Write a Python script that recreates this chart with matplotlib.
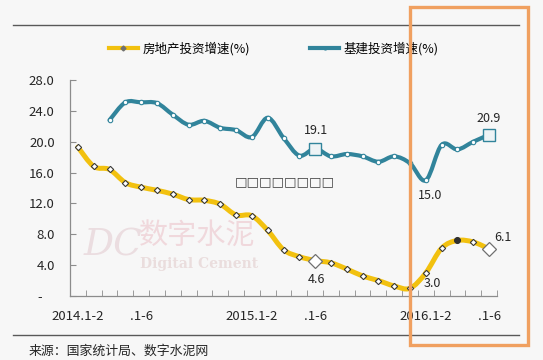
import numpy as np
import matplotlib
matplotlib.use("Agg")
import matplotlib.pyplot as plt
from matplotlib.path import Path
from matplotlib.patches import PathPatch, Rectangle
from matplotlib.lines import Line2D

plt.rcParams['font.family'] = ['Noto Sans CJK SC', 'DejaVu Sans']

# categories: cumulative months, Jan-Feb combined
categories = (['2014.1-%d' % m for m in range(2, 13)] +
              ['2015.1-%d' % m for m in range(2, 13)] +
              ['2016.1-%d' % m for m in range(2, 7)])

tick_index = [0, 4, 11, 15, 22, 26]
tick_text = ['2014.1-2', '.1-6', '2015.1-2', '.1-6', '2016.1-2', '.1-6']

# 房地产投资增速(%)
realestate = [19.3, 16.8, 16.4, 14.7, 14.1, 13.7, 13.2, 12.5, 12.4, 11.9, 10.5,
              10.4, 8.5, 6.0, 5.1, 4.6, 4.3, 3.5, 2.6, 2.0, 1.3, 1.0,
              3.0, 6.2, 7.2, 7.0, 6.1]
# 基建投资增速(%)
infra = [np.nan, np.nan, 22.8, 25.1, 25.1, 25.0, 23.5, 22.2, 22.7, 21.8, 21.5,
         20.6, 23.1, 20.5, 18.2, 19.1, 18.1, 18.4, 18.1, 17.4, 18.1, 17.2,
         15.0, 19.6, 19.0, 20.0, 20.9]

yticks = [0, 4, 8, 12, 16, 20, 24, 28]

yellow = '#F2C10F'
teal = '#31849B'
bg = '#F7F7F7'
W, H = 543, 360


def smooth_path(x, y):
    # bezier segments through every point, like a "smoothed line" in excel
    pts = np.column_stack([x, y])
    n = len(pts)
    verts = [pts[0]]
    codes = [Path.MOVETO]
    for i in range(n - 1):
        p0 = pts[i - 1] if i > 0 else pts[i]
        p1, p2 = pts[i], pts[i + 1]
        p3 = pts[i + 2] if i + 2 < n else pts[i + 1]
        verts += [p1 + (p2 - p0) / 6, p2 - (p3 - p1) / 6, p2]
        codes += [Path.CURVE4] * 3
    return Path(verts, codes)


def fx(px):
    return px / W


def fy(py):
    return 1 - py / H


fig = plt.figure(figsize=(W / 100, H / 100), dpi=100, facecolor=bg)
ax = fig.add_axes([fx(70), fy(296), 427 / W, 216 / H], facecolor=bg)

x = np.arange(len(categories))
re = np.array(realestate)
inf = np.array(infra)
ok = ~np.isnan(inf)

ax.add_patch(PathPatch(smooth_path(x, re), fill=False, ec=yellow, lw=3.6,
                       capstyle='round', joinstyle='round', zorder=2))
ax.add_patch(PathPatch(smooth_path(x[ok], inf[ok]), fill=False, ec=teal, lw=3.0,
                       capstyle='round', joinstyle='round', zorder=2))

ax.plot(x, re, ls='none', marker='D', ms=3.2, mfc='white', mec='#3a3a3a',
        mew=0.8, zorder=3)
ax.plot(x[ok], inf[ok], ls='none', marker='o', ms=3.2, mfc='white', mec=teal,
        mew=0.8, zorder=3)

# highlighted points
for i in [15, 26]:
    ax.plot(x[i], re[i], marker='D', ms=7, mfc='white', mec='#707070', mew=0.9,
            zorder=4)
    ax.plot(x[i], inf[i], marker='s', ms=8, mfc='#EEF3F5', mec=teal, mew=1.0,
            zorder=4)
ax.plot(x[24], re[24], marker='o', ms=4, mfc='#303030', mec='#303030', zorder=4)

# data labels
lab = dict(fontsize=9, color='#262626', ha='center', va='center',
           textcoords='offset points')
ax.annotate('%.1f' % inf[15], (x[15], inf[15]), xytext=(1, 13), **lab)
ax.annotate('%.1f' % inf[22], (x[22], inf[22]), xytext=(3, -11), **lab)
ax.annotate('%.1f' % inf[26], (x[26], inf[26]), xytext=(0, 12), **lab)
ax.annotate('%.1f' % re[15], (x[15], re[15]), xytext=(1, -14), **lab)
ax.annotate('%.1f' % re[22], (x[22], re[22]), xytext=(5, -8), **lab)
ax.annotate('%.1f' % re[26], (x[26], re[26]), xytext=(10, 8), **lab)

ax.set_xlim(-0.5, len(categories) - 0.5)
ax.set_ylim(0, 28)

ax.set_yticks(yticks)
ax.set_yticklabels(['-    '] + ['%.1f' % v for v in yticks[1:]])
ax.set_xticks([x[i] for i in tick_index])
ax.set_xticklabels(tick_text)
ax.set_xticks(np.arange(-0.5, len(categories), 1), minor=True)

ax.tick_params(axis='y', direction='in', length=4, color='#8C8C8C', pad=11,
               labelsize=9.5, labelcolor='#262626')
ax.tick_params(axis='x', which='major', length=0, pad=10, labelsize=9.5,
               labelcolor='#262626')
ax.tick_params(axis='x', which='minor', direction='in', length=4,
               color='#8C8C8C')

for s in ['top', 'right']:
    ax.spines[s].set_visible(False)
for s in ['left', 'bottom']:
    ax.spines[s].set_color('#8C8C8C')
    ax.spines[s].set_linewidth(0.9)

# watermark
ax.text(fx(84), fy(246), 'DC', transform=fig.transFigure, fontsize=27,
        family='DejaVu Serif', style='italic', color='#EBDDE0', va='center',
        zorder=0.5)
ax.text(fx(139), fy(236), '数字水泥', transform=fig.transFigure, fontsize=21,
        color='#F0D8DC', va='center', zorder=0.5)
ax.text(fx(140), fy(264), 'Digital Cement', transform=fig.transFigure,
        fontsize=10, family='DejaVu Serif', weight='bold', color='#EADDDD',
        va='center', zorder=0.5)

# missing-glyph caption in the middle
ax.text(fx(285), fy(182), '□□□□□□□□', transform=fig.transFigure, fontsize=9.5,
        family='DejaVu Sans', color='#404040', ha='center', va='center')

# legend
handles = [Line2D([], [], color=yellow, lw=3, marker='D', ms=2.5,
                  mfc='#707070', mec='#707070'),
           Line2D([], [], color=teal, lw=3, marker='o', ms=2, mfc=teal,
                  mec=teal)]
fig.legend(handles, ['房地产投资增速(%)', '基建投资增速(%)'], ncol=2,
           loc='center', bbox_to_anchor=(fx(274), fy(49)), frameon=False,
           fontsize=9, handlelength=2.3, handletextpad=0.4, columnspacing=4.8)

# frame lines and source
fig.add_artist(Line2D([fx(13), fx(519)], [fy(25), fy(25)], color='#595959',
                      lw=1.0))
fig.add_artist(Line2D([fx(13), fx(519)], [fy(335), fy(335)], color='#595959',
                      lw=1.0))
fig.text(fx(29), fy(351), '来源：国家统计局、数字水泥网', fontsize=9.3,
         color='#262626', va='center')

# highlight box
fig.add_artist(Rectangle((fx(410), fy(345)), (528 - 410) / W, (345 - 7) / H,
                         transform=fig.transFigure, fill=False,
                         ec='#F0A060', lw=2.4, zorder=10))

fig.savefig('out.png', dpi=100, facecolor=bg)
